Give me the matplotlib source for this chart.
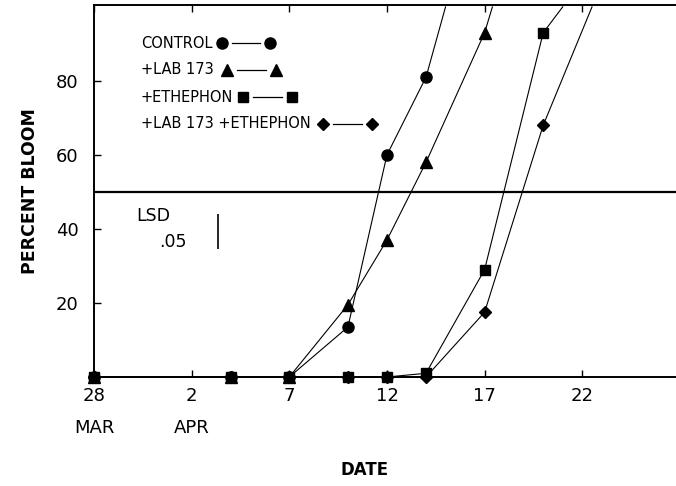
import numpy as np
import matplotlib
matplotlib.use("Agg")
import matplotlib.pyplot as plt
from matplotlib.lines import Line2D

# days after 28 March
control_days = [0, 7, 10, 13, 15, 17, 18.0]
control_vals = [0, 0, 0, 13.5, 60, 81, 100]

lab_days = [0, 7, 10, 13, 15, 17, 20, 20.4]
lab_vals = [0, 0, 0, 19.5, 37, 58, 93, 100]

eth_days = [0, 7, 10, 13, 15, 17, 20, 23, 24.0]
eth_vals = [0, 0, 0, 0, 0, 1, 29, 93, 100]

both_days = [0, 7, 10, 13, 15, 17, 20, 23, 25.5]
both_vals = [0, 0, 0, 0, 0, 0, 17.5, 68, 100]

tick_days = [0, 5, 10, 15, 20, 25]
tick_labels = ["28\nMAR", "2\nAPR", "7", "12", "17", "22"]

lsd_day = 6.35
lsd_center = 39.4
lsd_value = 9.4

plt.rcParams['font.family'] = ['DejaVu Sans']

fig = plt.figure(figsize=(6.76, 4.86), dpi=100)
ax = fig.add_axes([94/676, 109/486, 582/676, 372/486])

series = [
    (control_days, control_vals, 'o', 8),
    (lab_days, lab_vals, '^', 8),
    (eth_days, eth_vals, 's', 7),
    (both_days, both_vals, 'D', 6),
]
for d, v, m, ms in series:
    ax.plot(d, v, color='black', lw=0.8, marker=m, ms=ms,
            markevery=list(range(len(d) - 1)), clip_on=False, zorder=3)

ax.axhline(50, color='black', lw=1.6)
ax.vlines(lsd_day, lsd_center - lsd_value/2, lsd_center + lsd_value/2,
          color='black', lw=1.2)
ax.text(lsd_day - 4.2, lsd_center + 4.2, "LSD", fontsize=12.5, va='center')
ax.text(lsd_day - 3.0, lsd_center - 2.8, ".05", fontsize=12.5, va='center')

ax.set_xlim(0, 29.8)
ax.set_ylim(0, 100.5)
ax.set_xticks(tick_days)
ax.set_xticklabels(tick_labels, fontsize=13, linespacing=2.05, va='top')
ax.set_yticks([20, 40, 60, 80])
ax.set_yticklabels(["20", "40", "60", "80"], fontsize=13)
ax.tick_params(direction='in', top=True, length=5, width=1)
ax.tick_params(axis='y', pad=11)
ax.tick_params(axis='x', pad=7)

for s in ['left', 'bottom', 'top']:
    ax.spines[s].set_linewidth(1.4)
ax.spines['right'].set_visible(False)

ax.set_ylabel("PERCENT BLOOM", fontsize=12.5, fontweight='bold', labelpad=12)
fig.text(365/676, 1 - 470/486, "DATE", fontsize=12, fontweight='bold',
         ha='center', va='center')

# legend drawn by hand
def px(x, y):
    return (x - 94) / 582, (377 - y) / 372

legend = [
    ("CONTROL", 'o', 8, 222, 270, 43),
    ("+LAB 173", '^', 8, 227, 276, 70),
    ("+ETHEPHON", 's', 7, 243, 292, 97),
    ("+LAB 173 +ETHEPHON", 'D', 6, 323, 372, 124),
]
for label, m, ms, x1, x2, y in legend:
    tx, ty = px(141, y)
    ax.text(tx, ty, label, transform=ax.transAxes, fontsize=10.5,
            va='center', ha='left')
    a, b = px(x1, y)
    c, _ = px(x2, y)
    ax.add_line(Line2D([a, c], [b, b], transform=ax.transAxes, color='black',
                       lw=0, marker=m, ms=ms))
    a2, _ = px(x1 + 10, y)
    c2, _ = px(x2 - 10, y)
    ax.add_line(Line2D([a2, c2], [b, b], transform=ax.transAxes,
                       color='black', lw=0.9))

fig.savefig("out.png", dpi=100)
